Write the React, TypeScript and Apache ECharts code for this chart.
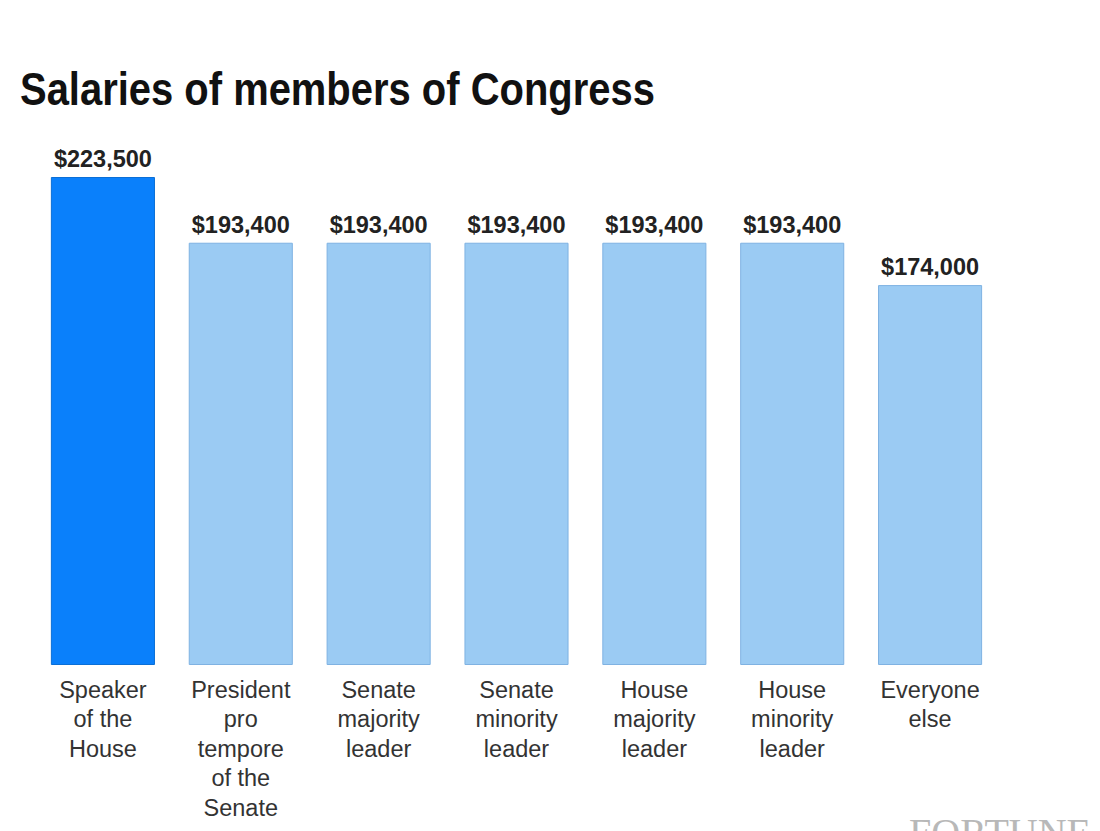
import React, { useEffect, useRef } from "react";
import * as echarts from "echarts";

const titleText = "Salaries of members of Congress";
const categories = [
  "Speaker\nof the\nHouse",
  "President\npro\ntempore\nof the\nSenate",
  "Senate\nmajority\nleader",
  "Senate\nminority\nleader",
  "House\nmajority\nleader",
  "House\nminority\nleader",
  "Everyone\nelse",
];
const salaries = [223500, 193400, 193400, 193400, 193400, 193400, 174000];
const highlighted = [true, false, false, false, false, false, false];

export default function App() {
  const ref = useRef<HTMLDivElement>(null);
  useEffect(() => {
    document.body.style.margin = "0";
    const chart = echarts.init(ref.current!, null, { renderer: "svg" });
    chart.setOption({
      animation: false,
      backgroundColor: "#ffffff",
      grid: { left: 34, right: 101, top: 177, bottom: 166 },
      xAxis: {
        type: "category",
        data: categories,
        axisLine: { show: false },
        axisTick: { show: false },
        axisLabel: {
          interval: 0,
          margin: 10,
          fontFamily: "'Liberation Sans', Arial, sans-serif",
          fontSize: 23.5,
          lineHeight: 29.5,
          color: "#333333",
        },
      },
      yAxis: {
        type: "value",
        min: 0,
        max: 223500,
        show: false,
        splitLine: { show: false },
      },
      series: [
        {
          type: "bar",
          barCategoryGap: "24.5%",
          data: salaries.map((v, i) => ({
            value: v,
            itemStyle: highlighted[i]
              ? { color: "#0a80fb", borderColor: "#0b6fd6", borderWidth: 1 }
              : { color: "#9bcbf3", borderColor: "#7fb2e2", borderWidth: 1 },
          })),
          label: {
            show: true,
            position: "top",
            distance: 6,
            fontFamily: "'Liberation Sans', Arial, sans-serif",
            fontWeight: "bold",
            fontSize: 23.5,
            color: "#222222",
            formatter: (p: any) => "$" + Number(p.value).toLocaleString("en-US"),
          },
        },
      ],
      graphic: [
        {
          type: "text",
          x: 20,
          y: 65,
          scaleX: 0.85,
          style: {
            text: titleText,
            fontFamily: "'Liberation Sans', Arial, sans-serif",
            fontWeight: "bold",
            fontSize: 47,
            fill: "#111111",
          },
        },
        {
          type: "text",
          x: 909,
          y: 812,
          style: {
            text: "FORTUNE",
            fontFamily: "'Liberation Serif', 'DejaVu Serif', serif",
            fontSize: 40,
            fill: "#b8b8b8",
          },
        },
      ],
    });
    return () => chart.dispose();
  }, []);
  return <div ref={ref} style={{ width: 1100, height: 831 }} />;
}
